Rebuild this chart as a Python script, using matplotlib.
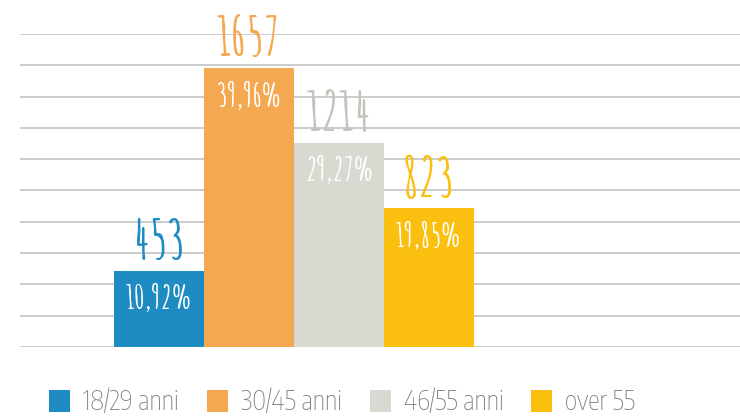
import matplotlib
matplotlib.use("Agg")
import matplotlib.pyplot as plt
from matplotlib.patches import Patch

categories = ["18/29 anni", "30/45 anni", "46/55 anni", "over 55"]
counts = [453, 1657, 1214, 823]
percent_labels = ["10,92%", "39,96%", "29,27%", "19,85%"]
bar_colors = ["#1E8BC3", "#F5A852", "#D9D9D1", "#FBBF0F"]
count_colors = ["#1E8BC3", "#F5A852", "#C4C4BA", "#FBBF0F"]

hand = ["Amatic SC", "DejaVu Sans"]
legend_font = ["Encode Sans Condensed", "DejaVu Sans"]

W, H = 740, 416
fig = plt.figure(figsize=(W / 100, H / 100), dpi=100)
ax = fig.add_axes([20 / W, 1 - 346.8 / H, 720 / W, (346.8 - 34) / H])

ymax = 1859
ax.set_ylim(0, ymax)
xs = list(range(len(categories)))
ax.set_xlim(-0.5 - 94 / 90, -0.5 + 626 / 90)

step = ymax / 10
for i in range(11):
    ax.axhline(i * step, color="#C8C8C8", lw=1.3, zorder=0)

ax.bar(xs, counts, width=1.0, color=bar_colors, zorder=2, linewidth=0)

for x, c, p, cc in zip(xs, counts, percent_labels, count_colors):
    ax.annotate(str(c), (x, c), xytext=(0, 8.5), textcoords="offset points",
                ha="center", va="baseline", fontsize=39, color=cc,
                family=hand, fontweight="bold")
    ax.annotate(p, (x, c), xytext=(0, -28), textcoords="offset points",
                ha="center", va="baseline", fontsize=24, color="white",
                family=hand, fontweight="bold")

for s in ax.spines.values():
    s.set_visible(False)
ax.set_xticks([])
ax.set_yticks([])

handles = [Patch(facecolor=col, edgecolor="none") for col in bar_colors]
leg = fig.legend(handles, categories, loc="upper left",
                 bbox_to_anchor=(49 / W, 1 - 388 / H), ncol=4,
                 frameon=False, borderpad=0, borderaxespad=0,
                 handlelength=0.8, handleheight=0.87, handletextpad=0.5,
                 columnspacing=1.05,
                 prop={"family": legend_font, "size": 19, "weight": "light"})
for t in leg.get_texts():
    t.set_color("#808080")

fig.savefig("out.png", dpi=100)
